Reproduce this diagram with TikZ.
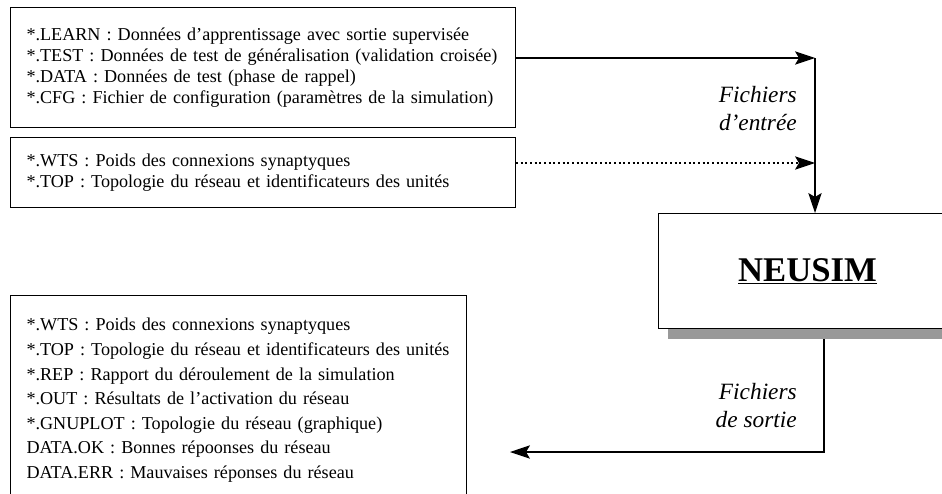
\documentclass[tikz,border=0pt]{standalone}
\usepackage{fontspec}
\setmainfont{Liberation Serif}
\usetikzlibrary{arrows.meta,positioning,shadows}

\begin{document}
\begin{tikzpicture}[
  x=0.75pt, y=-0.75pt,
  filebox/.style={draw, line width=0.8pt, align=left, anchor=north west, inner xsep=12pt, inner ysep=0pt,
    font=\fontsize{13.6}{15.75}\selectfont},
  simbox/.style={draw, line width=0.8pt, fill=white, anchor=north west, minimum width=223.5pt, minimum height=86.25pt,
    font=\fontsize{26}{30}\selectfont\bfseries,
    drop shadow={shadow xshift=6.75pt, shadow yshift=-7.5pt, fill=black!40, opacity=1}},
  lbl/.style={align=right, anchor=east, inner sep=0pt, font=\fontsize{17.5}{21}\selectfont\itshape},
  flow/.style={-{Stealth[length=15pt, width=10pt, inset=3pt]}, line width=0.8pt}
]
\path[use as bounding box] (0,0) rectangle (942,493);
\clip (0,0) rectangle (942,493);

\node[filebox, text width=354.75pt, minimum height=90pt] (learnbox) at (10,7)
  {{*}.LEARN : Données d’apprentissage avec sortie supervisée\\
   {*}.TEST : Données de test de généralisation (validation croisée)\\
   {*}.DATA : Données de test (phase de rappel)\\
   {*}.CFG : Fichier de configuration (paramètres de la simulation)};
\node[filebox, text width=354.75pt, minimum height=52.5pt] (wtsbox) at (10,137)
  {{*}.WTS : Poids des connexions synaptyques\\
   {*}.TOP : Topologie du réseau et identificateurs des unités};
\node[filebox, text width=318pt, minimum height=157pt,
  font=\fontsize{13.6}{18.4}\selectfont] (outbox) at (10,295)
  {{*}.WTS : Poids des connexions synaptyques\\
   {*}.TOP : Topologie du réseau et identificateurs des unités\\
   {*}.REP : Rapport du déroulement de la simulation\\
   {*}.OUT : Résultats de l’activation du réseau\\
   {*}.GNUPLOT : Topologie du réseau (graphique)\\
   DATA.OK : Bonnes répoonses du réseau\\
   DATA.ERR : Mauvaises réponses du réseau};
\node[simbox] (neusim) at (658,213) {\underline{NEUSIM}};

\coordinate (injoin) at (815,58);
\coordinate (wtsjoin) at (815,163);
\coordinate (outjoin) at (824,452);
\coordinate (outtip) at (510,452);

\node[lbl] (inlabel) at (797,109) {Fichiers\\d’entrée};
\node[lbl] (outlabel) at (797,406) {Fichiers\\de sortie};

\draw[flow] (learnbox.east |- injoin) -- (injoin);
\draw[flow, dash pattern=on 1.5pt off 2pt] (wtsbox.east |- wtsjoin) -- (wtsjoin);
\draw[flow] (injoin) -- (injoin |- neusim.north);
\draw[flow] (outjoin |- neusim.south) ++(0,10) |- (outtip);
\end{tikzpicture}
\end{document}
